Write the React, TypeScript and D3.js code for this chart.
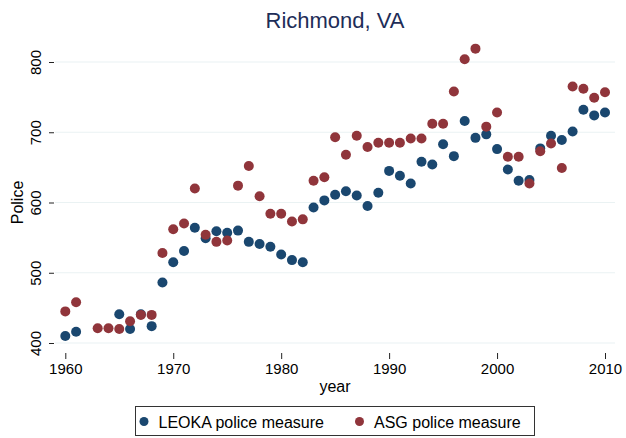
import { useEffect, useRef } from "react";
import * as d3 from "d3";

const years = d3.range(1960, 2011);

// LEOKA police measure (null = no observation)
const leoka: (number | null)[] = [
  410, 416, null, null, null, 441, 420, 441, 424, 486,
  515, 531, 564, 549, 559, 557, 560, 544, 541, 537,
  526, 518, 515, 593, 603, 611, 616, 610, 595, 614,
  645, 638, 627, 658, 654, 683, 666, 716, 692, 697,
  676, 647, 631, 632, 677, 695, 689, 701, 732, 724,
  728,
];

// ASG police measure
const asg: (number | null)[] = [
  445, 458, null, 421, 421, 420, 431, 440, 440, 528,
  562, 570, 620, 554, 544, 546, 624, 652, 609, 584,
  584, 573, 576, 631, 636, 693, 668, 695, 679, 685,
  685, 685, 691, 691, 712, 712, 758, 804, 819, 708,
  728, 665, 665, 627, 673, 684, 649, 765, 762, 749,
  757,
];

const xTicks = [1960, 1970, 1980, 1990, 2000, 2010];
const yTicks = [400, 500, 600, 700, 800];

const seriesNames = ["LEOKA police measure", "ASG police measure"];
const seriesColors = ["#1a476f", "#90353b"];

export default function App() {
  const svgRef = useRef<SVGSVGElement>(null);

  useEffect(() => {
    if (!svgRef.current) return;
    document.body.style.margin = "0";

    const width = 626;
    const height = 438;
    const font = "'Liberation Sans', Arial, Helvetica, sans-serif";
    const plot = { left: 55, right: 615, top: 40, bottom: 350 };

    const svg = d3.select(svgRef.current);
    svg.selectAll("*").remove();
    svg.attr("width", width).attr("height", height);

    svg
      .append("rect")
      .attr("width", width)
      .attr("height", height)
      .attr("fill", "#ffffff");

    const x = d3.scaleLinear().domain([1960, 2010]).range([65.3, 605]);
    const y = d3.scaleLinear().domain([400, 800]).range([343, 62]);

    // Grid lines
    svg
      .append("g")
      .selectAll("line")
      .data(yTicks)
      .enter()
      .append("line")
      .attr("x1", plot.left)
      .attr("x2", plot.right)
      .attr("y1", (d) => y(d))
      .attr("y2", (d) => y(d))
      .attr("stroke", "#eaf2f3")
      .attr("stroke-width", 1.2);

    // Y axis (no domain line)
    const yAxis = svg
      .append("g")
      .attr("transform", `translate(${plot.left - 1},0)`)
      .call(d3.axisLeft(y).tickValues(yTicks).tickSize(5));
    yAxis.select(".domain").remove();
    yAxis.selectAll(".tick line").attr("stroke", "#222").attr("stroke-width", 1);
    yAxis
      .selectAll(".tick text")
      .attr("fill", "#000")
      .attr("font-family", font)
      .attr("font-size", "15px")
      .attr("text-anchor", "middle")
      .attr("x", 0)
      .attr("y", 0)
      .attr("dy", 0)
      .attr("transform", "translate(-13,0) rotate(-90)");

    // X axis
    const xAxis = svg
      .append("g")
      .attr("transform", `translate(0,${plot.bottom + 3})`)
      .call(d3.axisBottom(x).tickValues(xTicks).tickFormat(d3.format("d")).tickSize(6).tickPadding(4));
    xAxis.select(".domain").remove();
    xAxis.selectAll(".tick line").attr("stroke", "#222").attr("stroke-width", 1);
    xAxis
      .selectAll(".tick text")
      .attr("fill", "#000")
      .attr("font-family", font)
      .attr("font-size", "15px");

    // Points: LEOKA first, ASG drawn on top
    [leoka, asg].forEach((values, i) => {
      const pts = years
        .map((yr, j) => ({ yr, v: values[j] }))
        .filter((p) => p.v !== null);
      svg
        .append("g")
        .selectAll("circle")
        .data(pts)
        .enter()
        .append("circle")
        .attr("cx", (d) => x(d.yr))
        .attr("cy", (d) => y(d.v as number))
        .attr("r", 5)
        .attr("fill", seriesColors[i]);
    });

    // Title
    svg
      .append("text")
      .attr("x", (plot.left + plot.right) / 2)
      .attr("y", 28)
      .attr("text-anchor", "middle")
      .attr("fill", "#1e2d58")
      .attr("font-family", font)
      .attr("font-size", "22px")
      .text("Richmond, VA");

    // Axis titles
    svg
      .append("text")
      .attr("x", (plot.left + plot.right) / 2)
      .attr("y", 392)
      .attr("text-anchor", "middle")
      .attr("fill", "#000")
      .attr("font-family", font)
      .attr("font-size", "16px")
      .text("year");

    svg
      .append("text")
      .attr("transform", `translate(23,${(y(400) + y(800)) / 2}) rotate(-90)`)
      .attr("text-anchor", "middle")
      .attr("fill", "#000")
      .attr("font-family", font)
      .attr("font-size", "16px")
      .text("Police");

    // Legend
    const legend = svg.append("g");
    legend
      .append("rect")
      .attr("x", 135.5)
      .attr("y", 406.5)
      .attr("width", 399)
      .attr("height", 29)
      .attr("fill", "#fff")
      .attr("stroke", "#333")
      .attr("stroke-width", 1);

    const legendX = [144, 359.5];
    seriesNames.forEach((name, i) => {
      legend
        .append("circle")
        .attr("cx", legendX[i])
        .attr("cy", 421.5)
        .attr("r", 4.5)
        .attr("fill", seriesColors[i]);
      legend
        .append("text")
        .attr("x", legendX[i] + 14.5)
        .attr("y", 427.5)
        .attr("fill", "#000")
        .attr("font-family", font)
        .attr("font-size", "16px")
        .text(name);
    });
  }, []);

  return <svg ref={svgRef} style={{ display: "block" }}></svg>;
}
